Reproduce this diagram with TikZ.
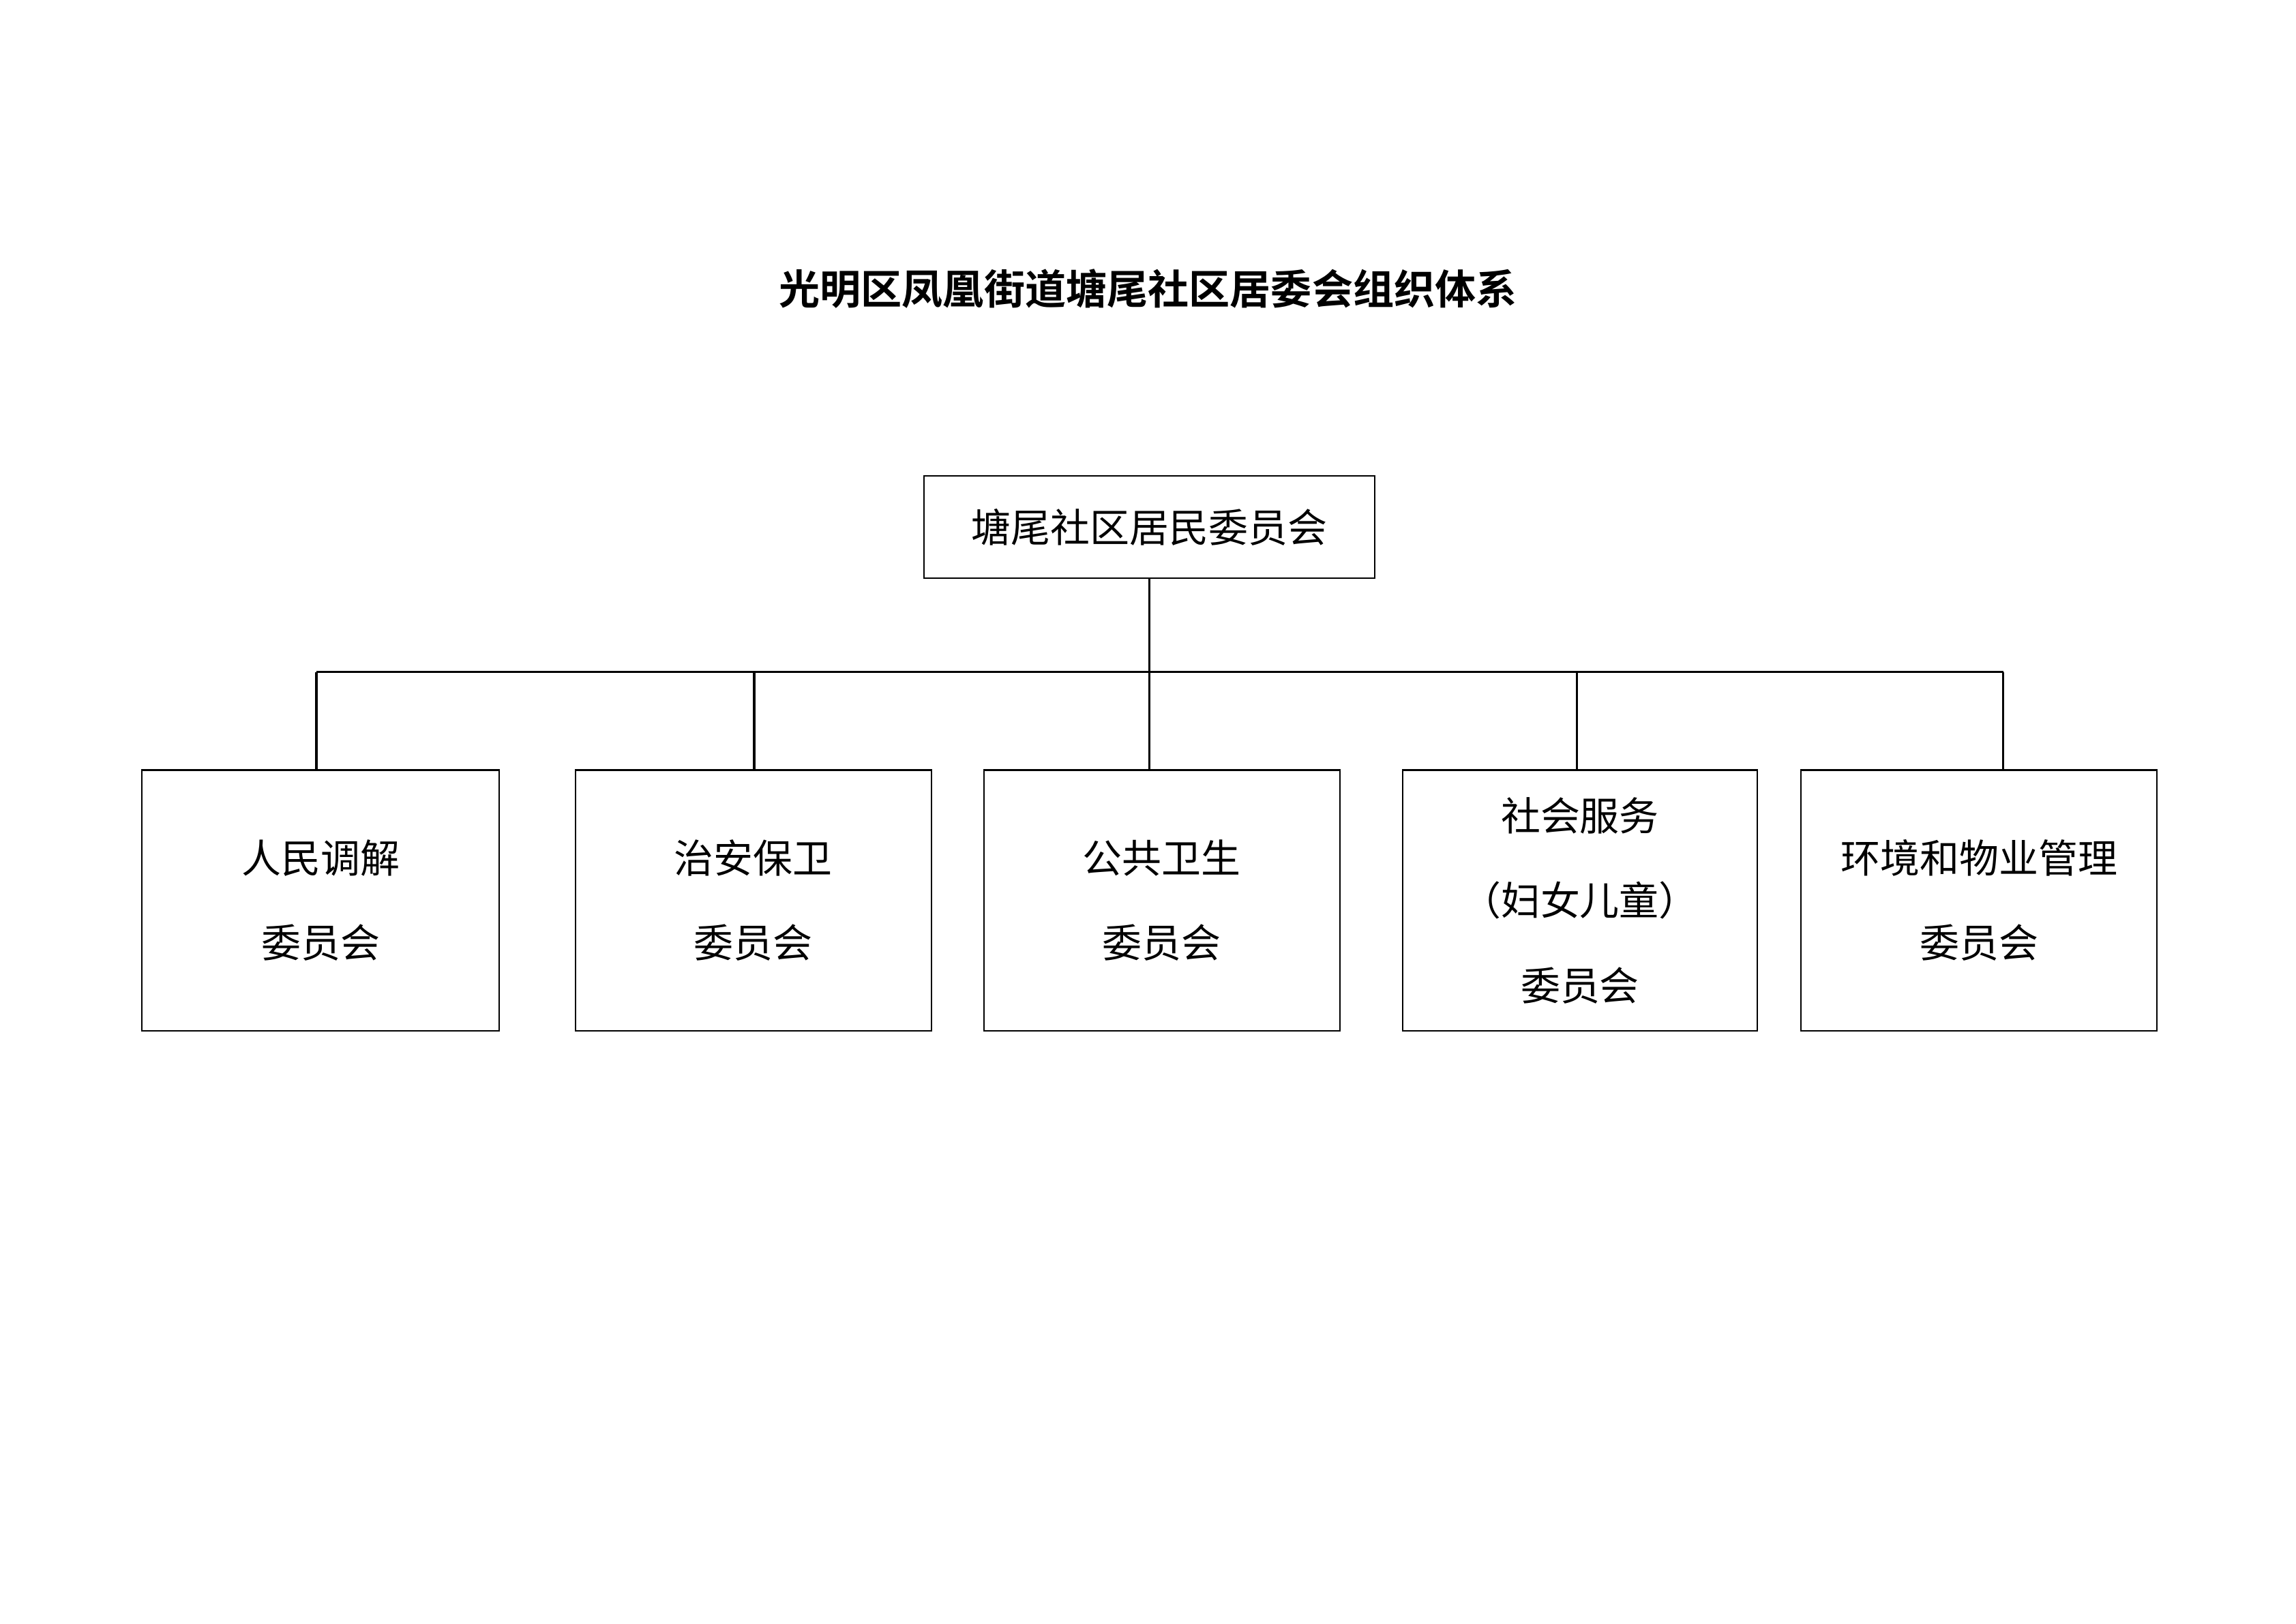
\documentclass[tikz,border=0pt]{standalone}
\usepackage{fontspec}
\newfontfamily\cjk{Noto Sans CJK SC}
\newfontfamily\cjkbold{Noto Sans CJK SC Bold}
\usetikzlibrary{positioning}
\tikzset{
  unitbox/.style={draw, line width=1pt, inner sep=0pt, align=center,
    font=\cjk\fontsize{27}{58}\selectfont},
  link/.style={line width=1.6pt}
}
\begin{document}
\begin{tikzpicture}[x=1pt,y=-1pt]
\useasboundingbox (0,0) rectangle (1568,1109);

% title
\node[font=\cjkbold\fontsize{28}{34}\selectfont] (title) at (784,197) {光明区凤凰街道塘尾社区居委会组织体系};

% top
\node[unitbox, minimum width=308pt, minimum height=70pt] (top) at (785,360) {塘尾社区居民委员会};

% committees
\node[unitbox, minimum width=244pt, minimum height=178pt] (boxA) at (219,615) {人民调解\\委员会};
\node[unitbox, minimum width=243pt, minimum height=178pt] (boxB) at (514.5,615) {治安保卫\\委员会};
\node[unitbox, minimum width=243pt, minimum height=178pt] (boxC) at (793.5,615) {公共卫生\\委员会};
\node[unitbox, minimum width=242pt, minimum height=178pt] (boxD) at (1079,615) {社会服务\\（妇女儿童）\\委员会};
\node[unitbox, minimum width=243pt, minimum height=178pt] (boxE) at (1351.5,615) {环境和物业管理\\委员会};

% bus
\coordinate (busA) at (216,459);
\coordinate (busB) at (515,459);
\coordinate (busC) at (785,459);
\coordinate (busD) at (1077,459);
\coordinate (busE) at (1368,459);
\draw[link] (top.south) -- (busC);
\draw[link] (busA) -- (busE);
\draw[link] (busA) -- (busA |- boxA.north);
\draw[link] (busB) -- (busB |- boxB.north);
\draw[link] (busC) -- (busC |- boxC.north);
\draw[link] (busD) -- (busD |- boxD.north);
\draw[link] (busE) -- (busE |- boxE.north);
\end{tikzpicture}
\end{document}
